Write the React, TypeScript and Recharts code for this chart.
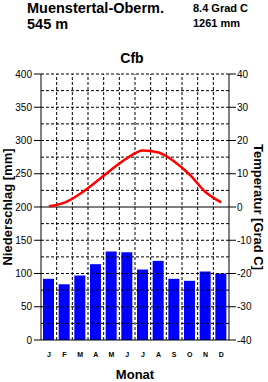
import {
  ComposedChart,
  Bar,
  Line,
  XAxis,
  YAxis,
  ReferenceLine,
} from 'recharts';

const months = ['J', 'F', 'M', 'A', 'M', 'J', 'J', 'A', 'S', 'O', 'N', 'D'];
const precip = [92, 84, 97, 114, 133, 132, 106, 119, 92, 89, 103, 100];
const temp = [0.2, 1.3, 4.0, 7.5, 11.3, 14.7, 17.0, 16.4, 13.7, 9.7, 4.5, 1.4];

const precipTicks = [0, 50, 100, 150, 200, 250, 300, 350, 400];
const tempTicks = [-40, -30, -20, -10, 0, 10, 20, 30, 40];
const gridY = [25, 50, 75, 100, 125, 150, 175, 225, 250, 275, 300, 325, 350, 375, 400];
const gridX = [1, 2, 3, 4, 5, 6, 7, 8, 9, 10, 11];

const data = months.map((m, i) => ({
  m,
  idx: i + 0.5,
  p: precip[i],
  t: temp[i],
}));

const font = '"Liberation Sans", Arial, sans-serif';
const tickStyle = { fontSize: 10, fill: '#000', fontFamily: font };

export default function App() {
  return (
    <div style={{ position: 'absolute', left: 0, top: 0, width: 268, height: 382, background: '#fff' }}>
      <ComposedChart
        width={268}
        height={382}
        data={data}
        margin={{ top: 74, right: 0, bottom: 20, left: 0 }}
      >
        <XAxis
          dataKey="m"
          height={22}
          tickLine={false}
          tickSize={10}
          tickMargin={2}
          axisLine={{ stroke: '#000' }}
          tick={{ fontSize: 7, fontWeight: 'bold', fill: '#000', fontFamily: font }}
          interval={0}
        />
        <XAxis xAxisId="g" dataKey="idx" type="number" domain={[0, 12]} hide />
        <YAxis
          yAxisId="p"
          domain={[0, 400]}
          ticks={precipTicks}
          width={41}
          tickSize={7}
          tickMargin={2}
          axisLine={{ stroke: '#000' }}
          tickLine={{ stroke: '#000' }}
          tick={tickStyle}
          interval={0}
        />
        <YAxis
          yAxisId="t"
          orientation="right"
          domain={[-40, 40]}
          ticks={tempTicks}
          width={39}
          tickSize={7}
          tickMargin={1}
          axisLine={{ stroke: '#000' }}
          tickLine={{ stroke: '#000' }}
          tick={tickStyle}
          interval={0}
        />
        {gridY.map((v) => (
          <ReferenceLine key={'y' + v} yAxisId="p" y={v} stroke="#000" strokeDasharray="3 2" />
        ))}
        {gridX.map((v) => (
          <ReferenceLine key={'x' + v} xAxisId="g" yAxisId="p" x={v} stroke="#000" strokeDasharray="3 2" />
        ))}
        <ReferenceLine yAxisId="t" y={0} stroke="#000" />
        <Bar yAxisId="p" dataKey="p" fill="#0000ff" barSize={11} isAnimationActive={false} />
        <Line
          yAxisId="t"
          dataKey="t"
          type="monotone"
          stroke="#ff0000"
          strokeWidth={2.5}
          dot={false}
          isAnimationActive={false}
        />
      </ComposedChart>
      <svg
        width={268}
        height={382}
        style={{ position: 'absolute', left: 0, top: 0, pointerEvents: 'none' }}
        fontFamily={font}
        fontWeight="bold"
        fill="#000"
      >
        <text x={27} y={13} fontSize={14.5}>Muenstertal-Oberm.</text>
        <text x={27} y={29} fontSize={14.5}>545 m</text>
        <text x={193} y={12} fontSize={11}>8.4 Grad C</text>
        <text x={193} y={27} fontSize={11}>1261 mm</text>
        <text x={132} y={63} fontSize={14} textAnchor="middle">Cfb</text>
        <text x={135} y={379} fontSize={13} textAnchor="middle">Monat</text>
        <text
          x={0}
          y={0}
          fontSize={13}
          textAnchor="middle"
          transform="translate(12 207) rotate(-90)"
        >
          Niederschlag [mm]
        </text>
        <text
          x={0}
          y={0}
          fontSize={13}
          textAnchor="middle"
          transform="translate(254 207) rotate(90)"
        >
          Temperatur [Grad C]
        </text>
      </svg>
    </div>
  );
}
